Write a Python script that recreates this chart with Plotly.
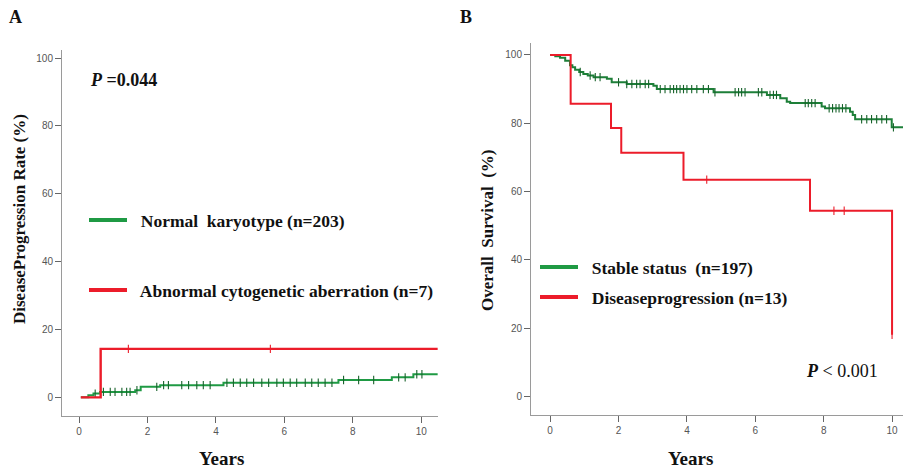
import numpy as np
import plotly.graph_objects as go

W, H = 903, 469

# ---------------- Data ----------------
# Panel A: cumulative disease progression rate (%)
a_normal_t = [0.05, 0.27, 0.42, 0.61, 1.64, 1.80, 2.37, 4.22, 7.58, 9.14, 9.77, 10.48]
a_normal_v = [0.0, 0.6, 1.1, 1.6, 2.1, 3.1, 3.6, 4.3, 5.1, 5.9, 6.8, 6.8]
a_normal_cens = [0.47, 0.71, 0.91, 1.05, 1.25, 1.39, 1.49, 1.69, 2.27, 2.47, 2.61, 3.0, 3.20,
                 3.44, 3.63, 3.83, 4.32, 4.51, 4.71, 4.90, 5.10, 5.34, 5.54, 5.78, 5.97, 6.17,
                 6.36, 6.61, 6.80, 6.99, 7.19, 7.39, 7.73, 8.17, 8.61, 9.34, 9.53, 9.87, 10.02]

a_abn_t = [0.05, 0.63, 10.48]
a_abn_v = [0.0, 14.3, 14.3]
a_abn_cens = [1.44, 5.59]

# Panel B: overall survival (%)
b_stable_t = [0.0, 0.15, 0.29, 0.44, 0.58, 0.65, 0.73, 0.85, 0.97, 1.10, 1.27, 1.66, 1.80,
              2.24, 3.02, 3.12, 4.78, 6.34, 6.73, 6.92, 7.02, 7.94, 8.04, 8.77, 8.85, 8.92,
              9.99, 10.33]
b_stable_v = [100.0, 99.6, 99.2, 98.3, 97.0, 96.4, 95.7, 95.0, 94.4, 94.0, 93.5, 93.0, 92.0,
              91.5, 91.0, 90.0, 89.1, 88.3, 87.3, 86.3, 85.9, 84.9, 84.4, 83.4, 82.4, 81.2,
              78.8, 78.8]
b_stable_cens = [0.88, 1.17, 1.32, 1.46, 2.0, 2.24, 2.39, 2.53, 2.63, 2.78, 2.88, 3.22, 3.36,
                 3.51, 3.61, 3.70, 3.80, 3.90, 4.0, 4.14, 4.29, 4.48, 4.63, 4.82, 5.41, 5.51,
                 5.60, 5.70, 6.09, 6.19, 6.43, 6.53, 6.62, 7.46, 7.55, 7.65, 7.75, 8.16, 8.26,
                 8.36, 8.45, 8.55, 8.65, 9.11, 9.26, 9.40, 9.55, 9.70, 9.84, 10.04]

b_prog_t = [0.0, 0.60, 1.78, 2.08, 3.90, 7.60, 10.0]
b_prog_v = [100.0, 85.7, 78.6, 71.4, 63.5, 54.4, 18.1]
b_prog_cens = [4.58, 8.30, 8.60, 10.0]

x_ticks = [0, 2, 4, 6, 8, 10]
y_ticks = [0, 20, 40, 60, 80, 100]

# ---------------- Styles ----------------
GREEN = "#1f9a44"
GREEN_B = "#1d7f38"
GREEN_MARK = "#17622b"
RED = "#ec1c2a"
SERIF = "Liberation Serif, Times New Roman, serif"
SANS = "Liberation Sans, Arial, sans-serif"


def step_at(ts, vs, tq):
    ts = np.asarray(ts)
    vs = np.asarray(vs)
    idx = np.searchsorted(ts, np.asarray(tq), side="right") - 1
    idx = np.clip(idx, 0, len(vs) - 1)
    return vs[idx]


fig = go.Figure()


def add_curve(ts, vs, cens, color, mcolor, xa, ya, width):
    fig.add_trace(go.Scatter(x=ts, y=vs, mode="lines", line=dict(color=color, width=width, shape="hv"),
                             xaxis=xa, yaxis=ya, showlegend=False, hoverinfo="skip"))
    fig.add_trace(go.Scatter(x=cens, y=step_at(ts, vs, cens), mode="markers",
                             marker=dict(symbol="line-ns", size=6, line=dict(color=mcolor, width=1.1)),
                             xaxis=xa, yaxis=ya, showlegend=False, hoverinfo="skip"))


add_curve(a_normal_t, a_normal_v, a_normal_cens, GREEN, GREEN_MARK, "x", "y", 2)
add_curve(a_abn_t, a_abn_v, a_abn_cens, RED, RED, "x", "y", 2.4)
add_curve(b_stable_t, b_stable_v, b_stable_cens, GREEN_B, GREEN_MARK, "x2", "y2", 2)
add_curve(b_prog_t, b_prog_v, b_prog_cens, RED, RED, "x2", "y2", 2)

# legend-only traces (thick swatches)
legend_items = [
    ("  Normal  karyotype (n=203)", GREEN, "legend"),
    ("  Abnormal cytogenetic aberration (n=7)", RED, "legend2"),
    ("  Stable status  (n=197)", GREEN, "legend3"),
    ("  Diseaseprogression (n=13)", RED, "legend4"),
]
for name, col, lg in legend_items:
    fig.add_trace(go.Scatter(x=[None], y=[None], mode="lines", name=name,
                             line=dict(color=col, width=4), legend=lg, xaxis="x", yaxis="y"))

leg_font = dict(family=SERIF, size=17.5, color="#111111", weight="bold")


def leg(x_px, y_px):
    return dict(x=x_px / W, y=1 - y_px / H, xanchor="left", yanchor="middle", font=leg_font,
                bgcolor="rgba(0,0,0,0)", itemwidth=38, borderwidth=0)


axis_common = dict(showgrid=False, zeroline=False, showline=True, linecolor="#9a9a9a", linewidth=1,
                   ticks="outside", ticklen=6, tickcolor="#666666", tickwidth=1,
                   tickfont=dict(family=SANS, size=10, color="#555555"))

fig.update_layout(
    width=W, height=H, margin=dict(l=0, r=0, t=0, b=0),
    paper_bgcolor="white", plot_bgcolor="white",
    xaxis=dict(domain=[62 / W, 438 / W], range=[-0.5, 10.49], tickvals=x_ticks, anchor="y", **axis_common),
    yaxis=dict(domain=[1 - 416 / H, 1 - 50 / H], range=[-5.5, 102.4], tickvals=y_ticks, anchor="x", **axis_common),
    xaxis2=dict(domain=[531 / W, 1.0], range=[-0.56, 10.32], tickvals=x_ticks, anchor="y2", **axis_common),
    yaxis2=dict(domain=[1 - 415 / H, 1 - 43 / H], range=[-5.4, 103.5], tickvals=y_ticks, anchor="x2", **axis_common),
    legend=leg(84, 220),
    legend2=leg(84, 290),
    legend3=leg(535, 267),
    legend4=leg(535, 297),
)

ann = [
    dict(text="<b>A</b>", x=15, y=17, size=18),
    dict(text="<b>B</b>", x=466, y=17, size=18),
    dict(text="<b>Years</b>", x=221, y=458, size=19),
    dict(text="<b>Years</b>", x=690, y=458, size=19),
]
for a in ann:
    fig.add_annotation(text=a["text"], x=a["x"] / W, y=1 - a["y"] / H, xref="paper", yref="paper",
                       showarrow=False, xanchor="center", yanchor="middle",
                       font=dict(family=SERIF, size=a["size"], color="#111111"))

fig.add_annotation(text="<b>DiseaseProgression Rate (%)</b>", x=19 / W, y=1 - 219 / H, xref="paper",
                   yref="paper", showarrow=False, textangle=-90, xanchor="center", yanchor="middle",
                   font=dict(family=SERIF, size=17, color="#111111"))
fig.add_annotation(text="<b>Overall  Survival  (%)</b>", x=487 / W, y=1 - 231 / H, xref="paper",
                   yref="paper", showarrow=False, textangle=-90, xanchor="center", yanchor="middle",
                   font=dict(family=SERIF, size=17, color="#111111"))
fig.add_annotation(text="<b><i>P</i> =0.044</b>", x=88 / W, y=1 - 80 / H, xref="paper", yref="paper",
                   showarrow=False, xanchor="left", yanchor="middle",
                   font=dict(family=SERIF, size=18, color="#111111"))
fig.add_annotation(text="<b><i>P</i></b> < 0.001", x=804 / W, y=1 - 371 / H, xref="paper", yref="paper",
                   showarrow=False, xanchor="left", yanchor="middle",
                   font=dict(family=SERIF, size=18, color="#111111"))

fig.write_html("out.html")
